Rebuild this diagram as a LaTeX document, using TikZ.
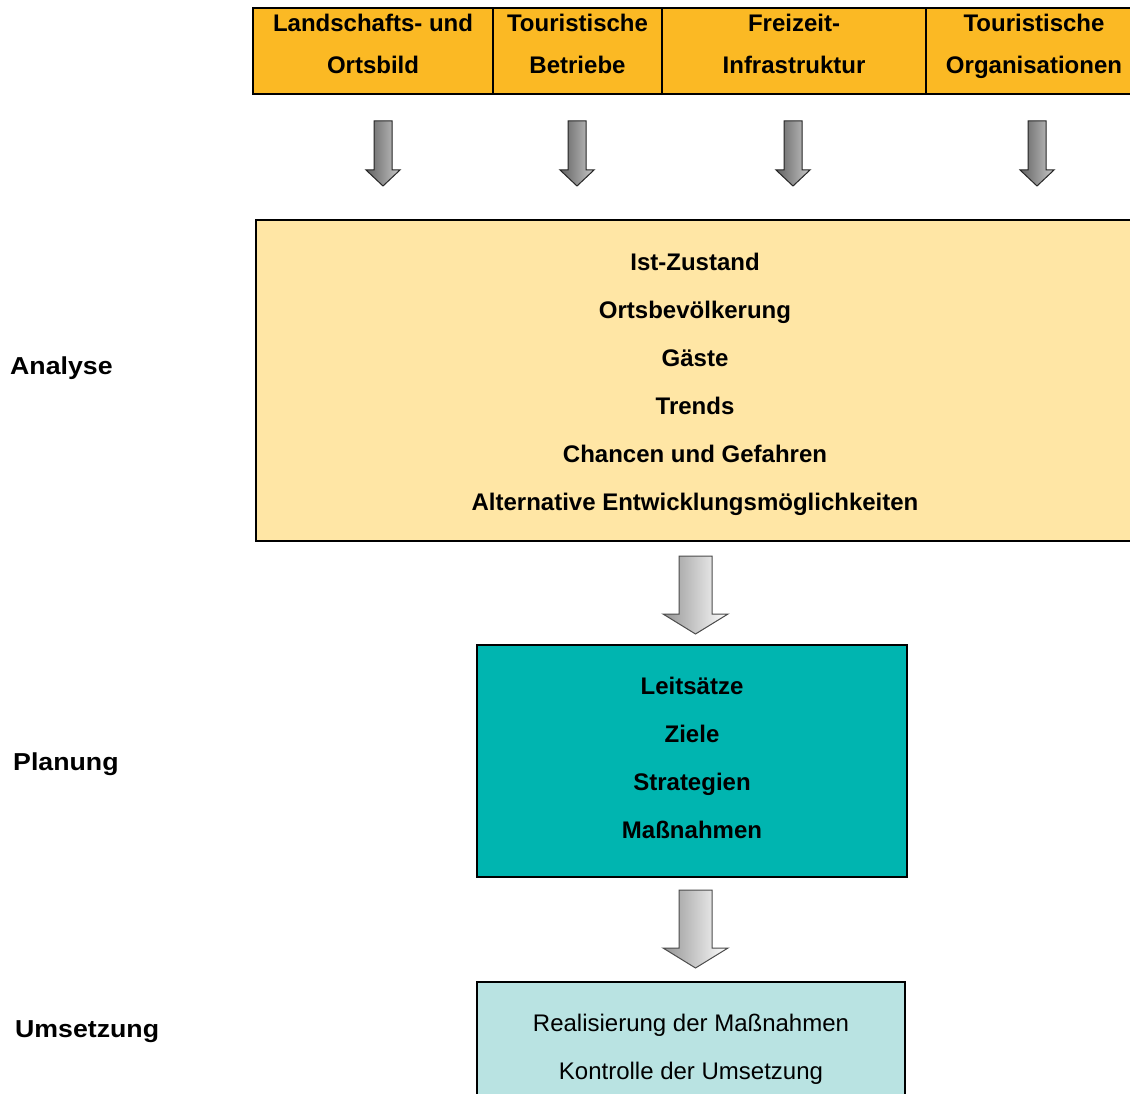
\documentclass[tikz,border=0pt]{standalone}
\usepackage{fontspec}
\setmainfont{Liberation Sans}
\definecolor{hdr}{RGB}{251,185,36}
\definecolor{anafill}{RGB}{255,230,165}
\definecolor{planfill}{RGB}{0,181,176}
\definecolor{umsfill}{RGB}{185,227,226}
\newcommand\dnarrow[7]{%
  \path[#7] (#1-#5,#2) -- (#1+#5,#2) -- (#1+#5,#3) -- (#1+#6,#3) -- (#1,#4)
    -- (#1-#6,#3) -- (#1-#5,#3) -- cycle;}
\begin{document}
\begin{tikzpicture}[x=1pt,y=-1pt,
  bt/.style={font=\fontsize{24}{28}\selectfont\bfseries, anchor=base, inner sep=0pt},
  rt/.style={font=\fontsize{24}{28}\selectfont, anchor=base, inner sep=0pt},
  side/.style={font=\fontsize{24.5}{28}\selectfont\bfseries, anchor=base west, inner sep=0pt, xscale=1.09, transform shape},
  cell/.style={draw=black, line width=2pt, fill=hdr, inner sep=0pt},
  bigbox/.style={draw=black, line width=1.5pt, inner sep=0pt},
  smallarr/.style={draw=black!85, line width=1pt, left color=black!62, right color=black!22},
  bigarr/.style={draw=black!70, line width=1pt, left color=black!42, right color=white},
]
\useasboundingbox (0,0) rectangle (1130,1094);
\fill[white] (0,0) rectangle (1130,1094);

% header cells
\node[cell, minimum width=240pt, minimum height=86pt] (h1) at (373,51) {};
\node[cell, minimum width=169pt, minimum height=86pt] (h2) at (577.5,51) {};
\node[cell, minimum width=264pt, minimum height=86pt] (h3) at (794,51) {};
\node[cell, minimum width=216pt, minimum height=86pt] (h4) at (1034,51) {};

\node[bt] (h1a) at (373,32) {Landschafts- und};
\node[bt] (h1b) at (373,74) {Ortsbild};
\node[bt] (h2a) at (577.5,32) {Touristische};
\node[bt] (h2b) at (577.5,74) {Betriebe};
\node[bt] (h3a) at (794,32) {Freizeit-};
\node[bt] (h3b) at (794,74) {Infrastruktur};
\node[bt] (h4a) at (1034,32) {Touristische};
\node[bt] (h4b) at (1034,74) {Organisationen};

% small arrows
\dnarrow{383}{121}{170}{186}{9}{17}{smallarr}
\dnarrow{577}{121}{170}{186}{9}{17}{smallarr}
\dnarrow{793}{121}{170}{186}{9}{17}{smallarr}
\dnarrow{1037}{121}{170}{186}{9}{17}{smallarr}

% analysis
\node[bigbox, fill=anafill, minimum width=878pt, minimum height=321pt] (ana) at (695,380.5) {};
\node[bt] (a1) at (695,270) {Ist-Zustand};
\node[bt] (a2) at (695,318) {Ortsbevölkerung};
\node[bt] (a3) at (695,366) {Gäste};
\node[bt] (a4) at (695,414) {Trends};
\node[bt] (a5) at (695,462) {Chancen und Gefahren};
\node[bt] (a6) at (695,510) {Alternative Entwicklungsmöglichkeiten};

% big arrow 1
\dnarrow{695.5}{556}{614}{634}{16.5}{32.5}{bigarr}

% planung
\node[bigbox, fill=planfill, minimum width=430pt, minimum height=232pt] (pla) at (692,761) {};
\node[bt] (p1) at (692,694) {Leitsätze};
\node[bt] (p2) at (692,742) {Ziele};
\node[bt] (p3) at (692,790) {Strategien};
\node[bt] (p4) at (692,838) {Maßnahmen};

% big arrow 2
\dnarrow{695.5}{890}{948}{968}{16.5}{32.5}{bigarr}

% umsetzung
\node[bigbox, fill=umsfill, minimum width=428pt, minimum height=118pt] (ums) at (691,1041) {};
\node[rt] (u1) at (691,1031) {Realisierung der Maßnahmen};
\node[rt] (u2) at (691,1079) {Kontrolle der Umsetzung};

% side labels
\node[side] (lA) at (10,374) {Analyse};
\node[side] (lP) at (13,770.5) {Planung};
\node[side] (lU) at (15,1037.5) {Umsetzung};
\end{tikzpicture}
\end{document}
